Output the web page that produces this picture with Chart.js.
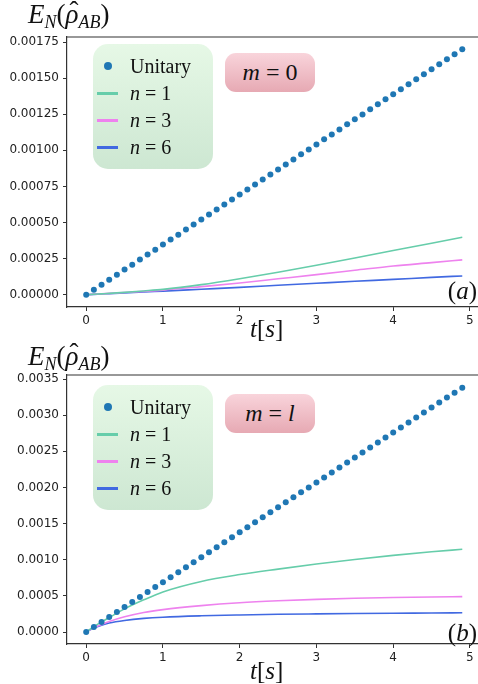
<!DOCTYPE html>
<html lang="en">
<head>
  <meta charset="UTF-8">
  <title>Entanglement negativity vs time</title>
  <style>
* { margin: 0; padding: 0; box-sizing: border-box; }

body {
  background: #fff;
  width: 478px;
  height: 684px;
  overflow: hidden;
}

/* one panel = canvas + overlays */
.panel {
  position: absolute;
  left: 0;
  width: 478px;
  height: 342px;
}

.panel canvas { position: absolute; left: 0; top: 0; }

.ytitle {
  position: absolute;
  left: 28px;
  font-family: 'Liberation Serif', serif;
  font-size: 27px;
  line-height: 27px;
  color: #111;
  white-space: nowrap;
}
.ytitle sub { font-size: 18px; vertical-align: -5px; }
.ytitle .hat { position: relative; display: inline-block; }
.ytitle .hat b {
  position: absolute;
  left: 4px;
  top: -3px;
  font-weight: normal;
  font-style: normal;
}

.xtitle {
  position: absolute;
  left: 250px;
  font-family: 'Liberation Serif', serif;
  font-size: 25px;
  line-height: 25px;
  color: #111;
}

.tag {
  position: absolute;
  right: 1px;
  font-family: 'Liberation Serif', serif;
  font-size: 25px;
  line-height: 25px;
  color: #111;
}

/* legend box */
.legend {
  position: absolute;
  left: 93px;
  width: 120px;
  height: 125px;
  border-radius: 15px;
  background: linear-gradient(#e6f8e6, #cde7d2);
  font-family: 'Liberation Serif', serif;
  font-size: 20px;
  color: #111;
}
.legend .row {
  position: absolute;
  left: 0;
  height: 24px;
  line-height: 24px;
  white-space: nowrap;
}
.legend .key {
  display: inline-block;
  width: 37px;
  height: 24px;
  position: relative;
  vertical-align: top;
}
.legend .dot {
  position: absolute;
  left: 11px; top: 8px;
  width: 8px; height: 8px;
  border-radius: 50%;
  background: #1f77b4;
}
.legend .ln {
  position: absolute;
  left: 4px; top: 11px;
  width: 21px; height: 2.5px;
}

/* m = ... box */
.mbox {
  position: absolute;
  left: 225px;
  width: 90px;
  height: 39px;
  border-radius: 11px;
  background: linear-gradient(#f9d4db, #e6a9b3);
  font-family: 'Liberation Serif', serif;
  font-size: 24px;
  line-height: 39px;
  text-align: center;
  color: #111;
}
  </style>
  <script src="https://cdn.jsdelivr.net/npm/chart.js"></script>
</head>
<body>

  <div class="panel" id="panelA" style="top:0">
    <canvas id="chartA" width="478" height="342"></canvas>
  </div>
  <div class="panel" id="panelB" style="top:342px">
    <canvas id="chartB" width="478" height="342"></canvas>
  </div>

  <script>
// time grids (s)
const tDots = [0, 0.1, 0.2, 0.3, 0.4, 0.5, 0.6, 0.7, 0.8, 0.9,
  1.0, 1.1, 1.2, 1.3, 1.4, 1.5, 1.6, 1.7, 1.8, 1.9,
  2.0, 2.1, 2.2, 2.3, 2.4, 2.5, 2.6, 2.7, 2.8, 2.9,
  3.0, 3.1, 3.2, 3.3, 3.4, 3.5, 3.6, 3.7, 3.8, 3.9,
  4.0, 4.1, 4.2, 4.3, 4.4, 4.5, 4.6, 4.7, 4.8, 4.9];
const tCurve = [0, 0.1, 0.2, 0.3, 0.5, 0.75, 1, 1.5, 2, 2.5, 3, 3.5, 4, 4.5, 4.9];

// panel (a), m = 0 -- values in units of 1e-5
const unitaryA = [0, 3.5, 6.9, 10.4, 13.9, 17.4, 20.8, 24.3, 27.8, 31.2,
  34.7, 38.2, 41.6, 45.1, 48.6, 52.1, 55.5, 59.0, 62.5, 65.9,
  69.4, 72.9, 76.3, 79.8, 83.3, 86.8, 90.2, 93.7, 97.2, 100.6,
  104.1, 107.6, 111.0, 114.5, 118.0, 121.5, 124.9, 128.4, 131.9, 135.3,
  138.8, 142.3, 145.7, 149.2, 152.7, 156.2, 159.6, 163.1, 166.6, 170.0];
const n1A = [0, 0.3, 0.6, 0.9, 1.6, 2.6, 3.7, 7.0, 11.1, 15.6, 20.4, 25.4, 30.6, 35.6, 39.8];
const n3A = [0, 0.3, 0.6, 0.9, 1.5, 2.3, 3.2, 5.6, 8.1, 11.0, 13.9, 16.9, 19.9, 22.2, 24.1];
const n6A = [0, 0.2, 0.5, 0.7, 1.2, 1.9, 2.5, 3.8, 5.1, 6.5, 7.9, 9.3, 10.6, 12.0, 13.0];

// panel (b), m = l -- values in units of 1e-5
const unitaryB = [0, 6.9, 13.8, 20.7, 27.6, 34.5, 41.4, 48.3, 55.2, 62.1,
  69.0, 75.9, 82.8, 89.7, 96.6, 103.5, 110.4, 117.3, 124.2, 131.1,
  138.0, 144.9, 151.8, 158.7, 165.6, 172.5, 179.4, 186.3, 193.2, 200.1,
  207.0, 213.9, 220.8, 227.7, 234.6, 241.5, 248.4, 255.3, 262.2, 269.1,
  276.0, 282.9, 289.8, 296.7, 303.6, 310.5, 317.4, 324.3, 331.2, 338.1];
const n1B = [0, 7.3, 14, 20, 32, 44.5, 55.5, 70, 79.5, 87, 94, 100.3, 106, 111, 114.5];
const n3B = [0, 6, 10.5, 14.5, 21, 27, 31, 36.5, 40.5, 43.2, 45.2, 46.6, 47.7, 48.5, 49];
const n6B = [0, 5.5, 9.5, 12.5, 16, 18.8, 20.5, 22.4, 23.6, 24.5, 25.1, 25.6, 26, 26.3, 26.6];

const UNIT = 1e-5;

// axis ticks
const xTicks = [0, 1, 2, 3, 4, 5];
const yTicksA = [0, 0.00025, 0.0005, 0.00075, 0.001, 0.00125, 0.0015, 0.00175];
const yTicksB = [0, 0.0005, 0.001, 0.0015, 0.002, 0.0025, 0.003, 0.0035];

// legend
const seriesNames = ['Unitary', 'n = 1', 'n = 3', 'n = 6'];
const seriesColors = ['#1f77b4', '#66cdaa', '#ee82ee', '#4169e1'];

Chart.defaults.font.family = "'DejaVu Sans', sans-serif";
Chart.defaults.font.size = 12;
Chart.defaults.color = '#222';

const topSpine = {
  id: 'topSpine',
  afterDraw(chart) {
    const { ctx, chartArea } = chart;
    ctx.save();
    ctx.strokeStyle = '#333';
    ctx.lineWidth = 1.2;
    ctx.beginPath();
    ctx.moveTo(chartArea.left, chartArea.top);
    ctx.lineTo(chartArea.right, chartArea.top);
    ctx.stroke();
    ctx.restore();
  }
};

function pts(ts, vals) {
  return ts.map((t, i) => ({ x: t, y: vals[i] * UNIT }));
}

function makePanel(canvasId, unitary, n1, n3, n6, yTicks, decimals, yMin, yMax, padTop, xHeight) {
  const curves = [n1, n3, n6];
  const datasets = [{
    label: seriesNames[0],
    data: pts(tDots, unitary),
    showLine: false,
    pointRadius: 3,
    pointBorderWidth: 0,
    pointBackgroundColor: seriesColors[0]
  }];
  curves.forEach((c, i) => {
    datasets.push({
      label: seriesNames[i + 1],
      data: pts(tCurve, c),
      showLine: true,
      borderColor: seriesColors[i + 1],
      borderWidth: 1.6,
      pointRadius: 0,
      cubicInterpolationMode: 'monotone'
    });
  });

  const axisGrid = {
    drawOnChartArea: false,
    drawTicks: true,
    tickLength: 4,
    color: '#333'
  };

  return new Chart(document.getElementById(canvasId), {
    type: 'scatter',
    data: { datasets },
    options: {
      responsive: false,
      animation: false,
      layout: { autoPadding: false, padding: { top: padTop, left: 0, right: 0, bottom: 0 } },
      plugins: { legend: { display: false }, tooltip: { enabled: false } },
      scales: {
        x: {
          type: 'linear',
          min: -0.25,
          max: 5.105,
          grid: axisGrid,
          border: { display: true, color: '#333', width: 1.2 },
          ticks: { padding: 3 },
          afterBuildTicks: s => { s.ticks = xTicks.map(v => ({ value: v })); },
          afterFit: s => {
            s.height = xHeight;
            s.paddingLeft = 0;
            s.paddingRight = 0;
          }
        },
        y: {
          type: 'linear',
          min: yMin,
          max: yMax,
          grid: axisGrid,
          border: { display: true, color: '#333', width: 1.2 },
          ticks: { padding: 4, callback: v => v.toFixed(decimals) },
          afterBuildTicks: s => { s.ticks = yTicks.map(v => ({ value: v })); },
          afterFit: s => {
            s.width = 67;
            s.paddingTop = 0;
            s.paddingBottom = 0;
          }
        }
      }
    },
    plugins: [topSpine]
  });
}

function addOverlays(panelId, mText, tag, legendTop, mTop) {
  const panel = document.getElementById(panelId);

  const yt = document.createElement('div');
  yt.className = 'ytitle';
  yt.style.top = '1px';
  yt.innerHTML = '<i>E</i><sub><i>N</i></sub>(<span class="hat"><i>\u03C1</i><b>\u02C6</b></span><sub><i>AB</i></sub>)';
  panel.appendChild(yt);

  const xt = document.createElement('div');
  xt.className = 'xtitle';
  xt.style.top = '316px';
  xt.innerHTML = '<i>t</i>[<i>s</i>]';
  panel.appendChild(xt);

  const tg = document.createElement('div');
  tg.className = 'tag';
  tg.style.top = '278px';
  tg.innerHTML = '(<i>' + tag + '</i>)';
  panel.appendChild(tg);

  const lg = document.createElement('div');
  lg.className = 'legend';
  lg.style.top = legendTop + 'px';
  const rowTops = [10, 37, 64, 91];
  seriesNames.forEach((name, i) => {
    const row = document.createElement('div');
    row.className = 'row';
    row.style.top = rowTops[i] + 'px';
    const key = i === 0
      ? '<span class="key"><span class="dot"></span></span>'
      : '<span class="key"><span class="ln" style="background:' + seriesColors[i] + '"></span></span>';
    const label = i === 0 ? name : name.replace(/^n/, '<i>n</i>');
    row.innerHTML = key + label;
    lg.appendChild(row);
  });
  panel.appendChild(lg);

  const mb = document.createElement('div');
  mb.className = 'mbox';
  mb.style.top = mTop + 'px';
  mb.innerHTML = '<i>m</i> = ' + mText;
  panel.appendChild(mb);
}

makePanel('chartA', unitaryA, n1A, n3A, n6A, yTicksA, 5, -0.0000852, 0.001785, 37, 35);
makePanel('chartB', unitaryB, n1B, n3B, n6B, yTicksB, 4, -0.000166, 0.003556, 33, 40);

addOverlays('panelA', '0', 'a', 44, 53);
addOverlays('panelB', '<i>l</i>', 'b', 43, 52);
  </script>

</body>
</html>
